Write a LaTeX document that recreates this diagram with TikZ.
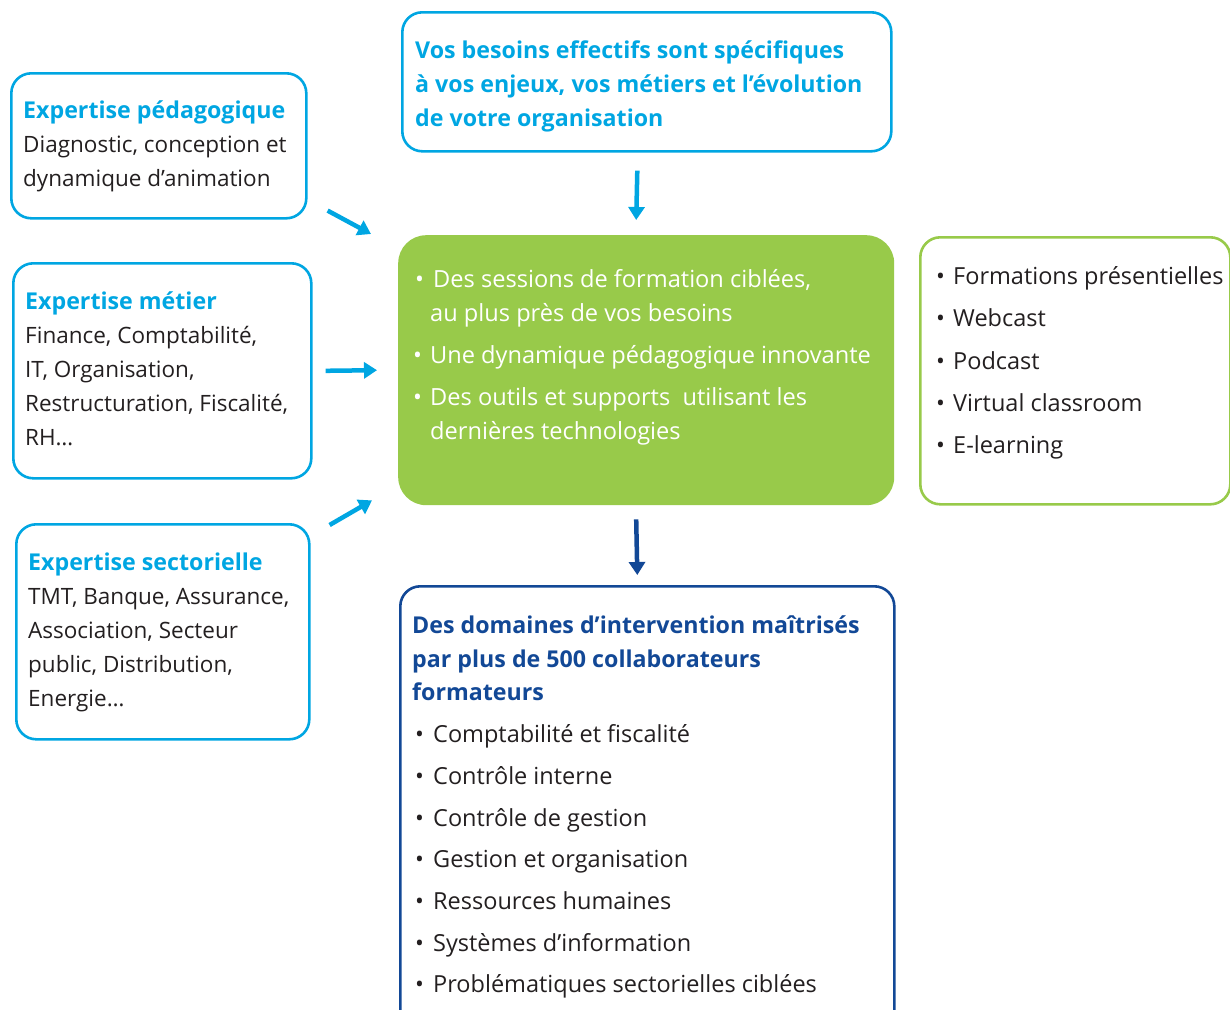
\documentclass[tikz,border=0pt]{standalone}
\usepackage{fontspec}
\setmainfont{Open Sans}
\usetikzlibrary{arrows.meta,calc}
\definecolor{cyanB}{RGB}{0,166,226}
\definecolor{greenF}{RGB}{152,202,74}
\definecolor{blueD}{RGB}{18,72,150}
\definecolor{txtc}{RGB}{35,31,32}
\begin{document}
\begin{tikzpicture}[x=1pt,y=-1pt,
  box/.style={draw=cyanB,line width=2.6pt,rounded corners=20pt,anchor=north west,inner sep=0pt},
  body/.style={anchor=base west,inner sep=0pt,text=txtc,font=\fontsize{22.5}{27}\selectfont},
  ttl/.style={anchor=base west,inner sep=0pt,text=cyanB,font=\fontsize{23.2}{27}\selectfont\bfseries},
  wht/.style={anchor=base west,inner sep=0pt,text=white,font=\fontsize{23.6}{27}\selectfont},
  lst/.style={anchor=base west,inner sep=0pt,text=txtc,font=\fontsize{23.5}{27}\selectfont},
  dttl/.style={anchor=base west,inner sep=0pt,text=blueD,font=\fontsize{23.2}{27}\selectfont\bfseries},
  arr/.style={-{Triangle[length=13pt,width=16pt]},line width=4.5pt,draw=cyanB}]
\useasboundingbox (0,0) rectangle (1230,1009);
% boxes
\node[box,minimum width=295pt,minimum height=145pt] (A) at (10,72) {};
\node[box,minimum width=298pt,minimum height=215pt] (B) at (12,262) {};
\node[box,minimum width=293pt,minimum height=215pt] (C) at (15,523) {};
\node[box,minimum width=489pt,minimum height=139pt] (T) at (401,11) {};
\node[fill=greenF,rounded corners=28pt,anchor=north west,inner sep=0pt,minimum width=496pt,minimum height=270pt] (G) at (398,235) {};
\node[box,draw=greenF,minimum width=310pt,minimum height=267pt] (R) at (919,236) {};
\node[box,draw=blueD,minimum width=494pt,minimum height=450pt] (D) at (399,585) {};
% box A
\node[ttl] (a1) at (23,118) {Expertise pédagogique};
\node[body] (a2) at (23,152) {Diagnostic, conception et};
\node[body] (a3) at (23,186) {dynamique d’animation};
% box B
\node[ttl] (b1) at (25,309) {Expertise métier};
\node[body] (b2) at (25,343) {Finance, Comptabilité,};
\node[body] (b3) at (25,377) {IT, Organisation,};
\node[body] (b4) at (25,411) {Restructuration, Fiscalité,};
\node[body] (b5) at (25,445) {RH\ldots};
% box C
\node[ttl] (c1) at (28,570) {Expertise sectorielle};
\node[body] (c2) at (28,604) {TMT, Banque, Assurance,};
\node[body] (c3) at (28,638) {Association, Secteur};
\node[body] (c4) at (28,672) {public, Distribution,};
\node[body] (c5) at (28,706) {Energie\ldots};
% top box
\node[ttl] (t1) at (415,58) {Vos besoins effectifs sont spécifiques};
\node[ttl] (t2) at (415,92) {à vos enjeux, vos métiers et l’évolution};
\node[ttl] (t3) at (415,126) {de votre organisation};
% green box
\node[wht] (g1) at (415,287) {\makebox[18pt][l]{•}Des sessions de formation ciblées,};
\node[wht] (g2) at (430,321) {au plus près de vos besoins};
\node[wht] (g3) at (413,363) {\makebox[17pt][l]{•}Une dynamique pédagogique innovante};
\node[wht] (g4) at (413,405) {\makebox[17pt][l]{•}Des outils et supports~ utilisant les};
\node[wht] (g5) at (430,439) {dernières technologies};
% right box
\node[lst] (r1) at (936,284) {\makebox[17pt][l]{•}Formations présentielles};
\node[lst] (r2) at (936,326) {\makebox[17pt][l]{•}Webcast};
\node[lst] (r3) at (936,369) {\makebox[17pt][l]{•}Podcast};
\node[lst] (r4) at (936,411) {\makebox[17pt][l]{•}Virtual classroom};
\node[lst] (r5) at (936,453) {\makebox[17pt][l]{•}E-learning};
% bottom box
\node[dttl] (d1) at (412,633) {Des domaines d’intervention maîtrisés};
\node[dttl] (d2) at (412,667) {par plus de 500 collaborateurs};
\node[dttl] (d3) at (412,700) {formateurs};
\node[lst] (d4) at (415,742) {\makebox[18pt][l]{•}Comptabilité et fiscalité};
\node[lst] (d5) at (415,784) {\makebox[18pt][l]{•}Contrôle interne};
\node[lst] (d6) at (415,826) {\makebox[18pt][l]{•}Contrôle de gestion};
\node[lst] (d7) at (415,867) {\makebox[18pt][l]{•}Gestion et organisation};
\node[lst] (d8) at (415,909) {\makebox[18pt][l]{•}Ressources humaines};
\node[lst] (d9) at (415,951) {\makebox[18pt][l]{•}Systèmes d’information};
\node[lst] (d10) at (415,992) {\makebox[18pt][l]{•}Problématiques sectorielles ciblées};
% arrows
\draw[arr] ($(A.south east)+(20,-9)$) -- ($(G.north west)+(-27,-1)$);
\draw[arr] ($(B.east)+(13,0)$) -- ($(G.west)+(-21,0)$);
\draw[arr] ($(C.north east)+(19,2)$) -- ($(G.south west)+(-26,-5)$);
\draw[arr] ($(T.south)+(-9.5,18)$) -- ($(G.north)+(-10,-15)$);
\draw[arr,draw=blueD] ($(G.south)+(-10,14)$) -- ($(D.north)+(-10,-10)$);
\end{tikzpicture}
\end{document}
